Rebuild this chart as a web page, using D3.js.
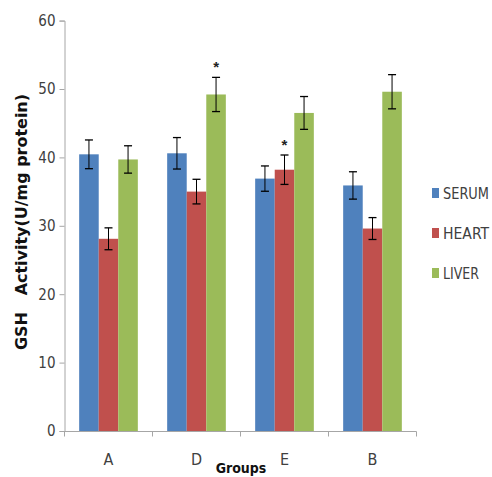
<!DOCTYPE html>
<html><head><meta charset="utf-8">
<script src="https://cdn.jsdelivr.net/npm/d3@7"></script>
<style>
body{margin:0;background:#fff;}
svg{display:block;}
</style></head>
<body>
<script>
const groups = ["A","D","E","B"];
const seriesNames = ["SERUM","HEART","LIVER"];
const serum = [40.45, 40.6, 36.9, 35.9];
const heart = [28.1, 35.0, 38.2, 29.6];
const liver = [39.7, 49.2, 46.5, 49.6];
const serumErr = [2.1, 2.3, 1.85, 2.0];
const heartErr = [1.6, 1.8, 2.15, 1.6];
const liverErr = [2.0, 2.5, 2.4, 2.5];
const significant = [[false,false,false],[false,false,true],[false,true,false],[false,false,false]];
const yTicks = [0,10,20,30,40,50,60];
const colors = ["#4f81bd","#c0504d","#9bbb59"];

const values = [serum, heart, liver];
const errs = [serumErr, heartErr, liverErr];

const W = 492, H = 477;
const svg = d3.select("body").append("svg").attr("width", W).attr("height", H);
const font = "'DejaVu Sans Condensed','Liberation Sans Narrow',sans-serif";
const boldFont = "'DejaVu Sans Condensed','Liberation Sans',Arial,sans-serif";

const x0 = d3.scaleBand().domain(groups).range([64.5, 416.5]).paddingInner(0).paddingOuter(0);
const x1 = d3.scaleBand().domain(seriesNames).range([0, x0.bandwidth()]).paddingInner(0).paddingOuter(0.75);
const y = d3.scaleLinear().domain([0, 60]).range([431, 20.6]);

// y axis
const yAxis = svg.append("g").attr("transform", "translate(64.5,0)")
  .call(d3.axisLeft(y).tickValues(yTicks).tickSize(5).tickPadding(4));
yAxis.select(".domain").attr("stroke", "#a6a6a6");
yAxis.selectAll(".tick line").attr("stroke", "#a6a6a6");
yAxis.selectAll(".tick text").attr("font-family", font).attr("font-size", 15).attr("fill", "#404040");

// bars
const g = svg.append("g");
groups.forEach((grp, gi) => {
  seriesNames.forEach((s, si) => {
    const v = values[si][gi], e = errs[si][gi];
    const bx = x0(grp) + x1(s);
    g.append("rect").attr("x", bx).attr("y", y(v)).attr("width", x1.bandwidth())
      .attr("height", y(0) - y(v)).attr("fill", colors[si]);
    const cx = bx + x1.bandwidth() / 2;
    g.append("line").attr("x1", cx).attr("x2", cx).attr("y1", y(v + e)).attr("y2", y(v - e))
      .attr("stroke", "#000").attr("stroke-width", 1);
    [v + e, v - e].forEach(val => {
      g.append("line").attr("x1", cx - 4).attr("x2", cx + 4).attr("y1", y(val)).attr("y2", y(val))
        .attr("stroke", "#000").attr("stroke-width", 1.3);
    });
    if (significant[gi][si]) {
      g.append("text").attr("x", cx).attr("y", y(v + e) - 5).attr("text-anchor", "middle")
        .attr("font-family", "'Liberation Sans',Arial,sans-serif").attr("font-weight", "bold")
        .attr("font-size", 15).attr("fill", "#222").text("*");
    }
  });
});

// x axis
const xAxisG = svg.append("g").attr("transform", "translate(0,431.5)");
xAxisG.append("line").attr("x1", 64.5).attr("x2", 416.5).attr("y1", 0).attr("y2", 0).attr("stroke", "#a6a6a6");
const bounds = groups.map(gr => x0(gr)).concat([x0(groups[groups.length-1]) + x0.bandwidth()]);
bounds.forEach(b => {
  xAxisG.append("line").attr("x1", b).attr("x2", b).attr("y1", 0).attr("y2", 5).attr("stroke", "#a6a6a6");
});
groups.forEach(gr => {
  xAxisG.append("text").attr("x", x0(gr) + x0.bandwidth() / 2).attr("y", 33)
    .attr("text-anchor", "middle").attr("font-family", font).attr("font-size", 16)
    .attr("fill", "#404040").text(gr);
});

// axis titles
svg.append("text").attr("x", 241).attr("y", 473).attr("text-anchor", "middle")
  .attr("font-family", boldFont).attr("font-weight", "bold")
  .attr("font-size", 14).attr("fill", "#111").text("Groups");
svg.append("text").attr("transform", "translate(27,222) rotate(-90)").attr("text-anchor", "middle")
  .attr("font-family", boldFont).attr("font-weight", "bold")
  .attr("font-size", 15).attr("fill", "#111").attr("textLength", 256).attr("lengthAdjust", "spacingAndGlyphs")
  .style("white-space", "pre").text("GSH   Activity(U/mg protein)");

// legend
const legLen = [46, 46, 36];
const leg = svg.append("g");
seriesNames.forEach((s, i) => {
  const ly = 193 + i * 40;
  leg.append("rect").attr("x", 432).attr("y", ly - 5).attr("width", 7).attr("height", 10).attr("fill", colors[i]);
  leg.append("text").attr("x", 443).attr("y", ly + 6).attr("font-family", font).attr("font-size", 15)
    .attr("fill", "#404040").attr("textLength", legLen[i]).attr("lengthAdjust", "spacingAndGlyphs").text(s);
});
</script>
</body></html>
